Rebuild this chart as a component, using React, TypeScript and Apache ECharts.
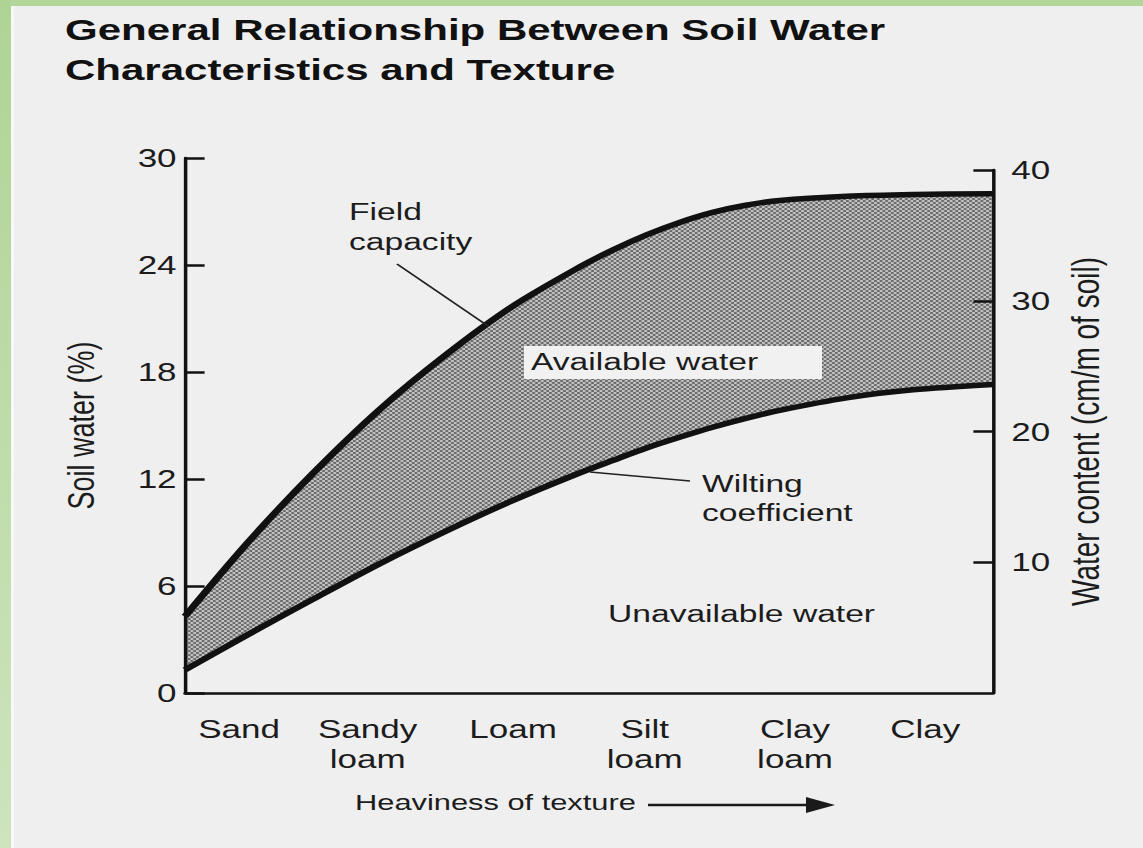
import React, { useEffect, useRef } from 'react';
import * as echarts from 'echarts';

// ---- data ----
const categories = ['Sand', 'Sandy\nloam', 'Loam', 'Silt\nloam', 'Clay\nloam', 'Clay'];
// position of each texture label along the texture (x) axis, 0..100
const categoryPositions = [6.7, 22.6, 40.6, 56.9, 75.5, 91.6];
// sampled points along the texture axis
const texturePositions = [0, 7.7, 15.8, 24.1, 32.4, 40.6, 48.9, 53.0, 57.2, 61.3, 65.3, 69.4, 73.6, 81.9, 90.1, 100];
// soil water (%) at field capacity
const fieldCapacity = [4.3, 8.4, 12.3, 15.9, 19.0, 21.7, 23.9, 24.85, 25.7, 26.4, 26.95, 27.35, 27.62, 27.85, 27.95, 28.0];
// soil water (%) at the wilting coefficient
const wiltingCoefficient = [1.3, 3.25, 5.25, 7.25, 9.1, 10.8, 12.35, 13.05, 13.75, 14.35, 14.9, 15.4, 15.85, 16.55, 17.0, 17.3];
// axis ticks
const soilWaterTicks = [0, 6, 12, 18, 24, 30];
const waterContentTicks = [0, 10, 20, 30, 40];

const TITLE = 'General Relationship Between Soil Water\nCharacteristics and Texture';
const FONT = '"Liberation Sans", Arial, Helvetica, sans-serif';
const INK = '#1c1c1c';
const PAPER = '#efefef';

// the scanned figure is stretched horizontally; we draw at W and stretch to 1143
const W = 816;
const H = 848;
const S = 1143 / W;
const px = (x: number) => x / S;

function makePattern(): HTMLCanvasElement {
  const c = document.createElement('canvas');
  c.width = 4;
  c.height = 4;
  const g = c.getContext('2d')!;
  g.fillStyle = '#c4c4c4';
  g.fillRect(0, 0, 4, 4);
  g.fillStyle = '#6a6a6a';
  g.fillRect(0, 0, 2, 2);
  g.fillRect(2, 2, 2, 2);
  return c;
}

export default function App() {
  const ref = useRef<HTMLDivElement>(null);

  useEffect(() => {
    if (!ref.current) return;
    const chart = echarts.init(ref.current, undefined, { renderer: 'svg' });

    const upperData = texturePositions.map((x, i) => [x, fieldCapacity[i]]);
    const lowerData = texturePositions.map((x, i) => [x, wiltingCoefficient[i]]);

    let areaColor: any = '#a0a0a0';
    try {
      areaColor = { image: makePattern(), repeat: 'repeat', imageWidth: 4, imageHeight: 4 };
    } catch (e) {
      areaColor = '#a0a0a0';
    }

    const gridLeft = px(185);
    const gridRight = W - px(993);
    const gridBottom = H - 693;

    const axisLineStyle = { show: true, onZero: false, lineStyle: { color: '#111', width: 2.5 } };

    chart.setOption({
      animation: false,
      backgroundColor: PAPER,
      textStyle: { fontFamily: FONT, color: INK },
      grid: [
        { left: gridLeft, right: gridRight, top: 158, bottom: gridBottom, containLabel: false },
        { left: gridLeft, right: gridRight, top: 170, bottom: gridBottom, containLabel: false },
      ],
      xAxis: [
        {
          type: 'value',
          gridIndex: 0,
          min: 0,
          max: 100,
          z: 10,
          axisLine: axisLineStyle,
          axisTick: { show: false },
          splitLine: { show: false },
          axisLabel: {
            customValues: categoryPositions,
            formatter: (v: number) => {
              const i = categoryPositions.indexOf(v);
              return i >= 0 ? categories[i] : '';
            },
            fontSize: 25,
            lineHeight: 30,
            margin: 21,
            color: INK,
            fontFamily: FONT,
          },
        },
        {
          type: 'value',
          gridIndex: 1,
          min: 0,
          max: 100,
          show: false,
        },
      ],
      yAxis: [
        {
          type: 'value',
          gridIndex: 0,
          position: 'left',
          min: soilWaterTicks[0],
          max: soilWaterTicks[soilWaterTicks.length - 1],
          interval: soilWaterTicks[1] - soilWaterTicks[0],
          z: 10,
          name: 'Soil water (%)',
          nameLocation: 'middle',
          nameRotate: 90,
          nameGap: 61,
          nameTextStyle: { fontSize: 27, color: INK, fontFamily: FONT },
          axisLine: axisLineStyle,
          axisTick: { show: true, inside: true, length: 14, lineStyle: { color: '#111', width: 2.5 } },
          splitLine: { show: false },
          axisLabel: { fontSize: 25, margin: 6, color: INK, fontFamily: FONT },
        },
        {
          type: 'value',
          gridIndex: 1,
          position: 'right',
          min: waterContentTicks[0],
          max: waterContentTicks[waterContentTicks.length - 1],
          interval: waterContentTicks[1] - waterContentTicks[0],
          z: 10,
          name: 'Water content (cm/m of soil)',
          nameLocation: 'middle',
          nameRotate: 90,
          nameGap: 51,
          nameTextStyle: { fontSize: 28, color: INK, fontFamily: FONT },
          axisLine: axisLineStyle,
          axisTick: { show: true, inside: true, length: 14, lineStyle: { color: '#111', width: 2.5 } },
          splitLine: { show: false },
          axisLabel: { fontSize: 25, margin: 13, color: INK, fontFamily: FONT, showMinLabel: false },
        },
      ],
      series: [
        {
          name: 'Field capacity',
          type: 'line',
          xAxisIndex: 0,
          yAxisIndex: 0,
          smooth: 0.3,
          showSymbol: false,
          z: 3,
          lineStyle: { color: '#111', width: 5.5 },
          areaStyle: { color: areaColor, opacity: 1, origin: 'start' },
          data: upperData,
        },
        {
          name: 'Wilting coefficient',
          type: 'line',
          xAxisIndex: 0,
          yAxisIndex: 0,
          smooth: 0.3,
          showSymbol: false,
          z: 4,
          lineStyle: { color: '#111', width: 5.5 },
          // paper-coloured fill below: leaves only the band between the curves shaded
          areaStyle: { color: PAPER, opacity: 1, origin: 'start' },
          data: lowerData,
        },
      ],
      graphic: [
        // green frame of the slide
        { type: 'rect', silent: true, shape: { x: 0, y: 0, width: W, height: 6 }, style: { fill: '#b2d59a' } },
        {
          type: 'rect',
          silent: true,
          shape: { x: 0, y: 0, width: px(11), height: H },
          style: {
            fill: new echarts.graphic.LinearGradient(0, 0, 0, 1, [
              { offset: 0, color: '#aed495' },
              { offset: 1, color: '#cde4bd' },
            ]),
          },
        },
        { type: 'rect', silent: true, shape: { x: px(11), y: 6, width: px(3), height: H }, style: { fill: '#f8f8f8' } },
        // title
        {
          type: 'text',
          silent: true,
          x: px(65),
          y: 10,
          z: 50,
          style: {
            text: TITLE,
            fontFamily: FONT,
            fontSize: 30,
            fontWeight: 'bold',
            lineHeight: 40,
            fill: '#111',
            textAlign: 'left',
            textVerticalAlign: 'top',
          },
        },
        // field capacity annotation
        {
          type: 'text',
          silent: true,
          x: px(349),
          y: 197,
          z: 50,
          style: { text: 'Field\ncapacity', fontFamily: FONT, fontSize: 24, lineHeight: 30, fill: INK, textAlign: 'left', textVerticalAlign: 'top' },
        },
        {
          type: 'line',
          silent: true,
          z: 50,
          shape: { x1: px(397), y1: 264, x2: px(488), y2: 326 },
          style: { stroke: '#222', lineWidth: 1.6 },
        },
        // available water label on a light box
        {
          type: 'rect',
          silent: true,
          z: 40,
          shape: { x: px(524), y: 346, width: px(822) - px(524), height: 33 },
          style: { fill: '#f1f1f1' },
        },
        {
          type: 'text',
          silent: true,
          x: px(531),
          y: 362,
          z: 50,
          style: { text: 'Available water', fontFamily: FONT, fontSize: 24, fill: INK, textAlign: 'left', textVerticalAlign: 'middle' },
        },
        // wilting coefficient annotation
        {
          type: 'line',
          silent: true,
          z: 50,
          shape: { x1: px(590), y1: 472, x2: px(690), y2: 481 },
          style: { stroke: '#222', lineWidth: 1.6 },
        },
        {
          type: 'text',
          silent: true,
          x: px(702),
          y: 469,
          z: 50,
          style: { text: 'Wilting\ncoefficient', fontFamily: FONT, fontSize: 24, lineHeight: 29, fill: INK, textAlign: 'left', textVerticalAlign: 'top' },
        },
        // unavailable water
        {
          type: 'text',
          silent: true,
          x: px(608),
          y: 614,
          z: 50,
          style: { text: 'Unavailable water', fontFamily: FONT, fontSize: 24, fill: INK, textAlign: 'left', textVerticalAlign: 'middle' },
        },
        // heaviness of texture + arrow
        {
          type: 'text',
          silent: true,
          x: px(355),
          y: 803,
          z: 50,
          style: { text: 'Heaviness of texture', fontFamily: FONT, fontSize: 22, fill: INK, textAlign: 'left', textVerticalAlign: 'middle' },
        },
        {
          type: 'line',
          silent: true,
          z: 50,
          shape: { x1: px(648), y1: 805, x2: px(815), y2: 805 },
          style: { stroke: '#1a1a1a', lineWidth: 2.5 },
        },
        {
          type: 'polygon',
          silent: true,
          z: 50,
          shape: { points: [[px(806), 797], [px(835), 805], [px(806), 813]] },
          style: { fill: '#1a1a1a' },
        },
      ],
    });

    return () => {
      chart.dispose();
    };
  }, []);

  return (
    <div
      style={{
        position: 'fixed',
        left: 0,
        top: 0,
        width: W,
        height: H,
        transform: `scaleX(${S})`,
        transformOrigin: '0 0',
      }}
    >
      <div ref={ref} style={{ width: W, height: H }} />
    </div>
  );
}
